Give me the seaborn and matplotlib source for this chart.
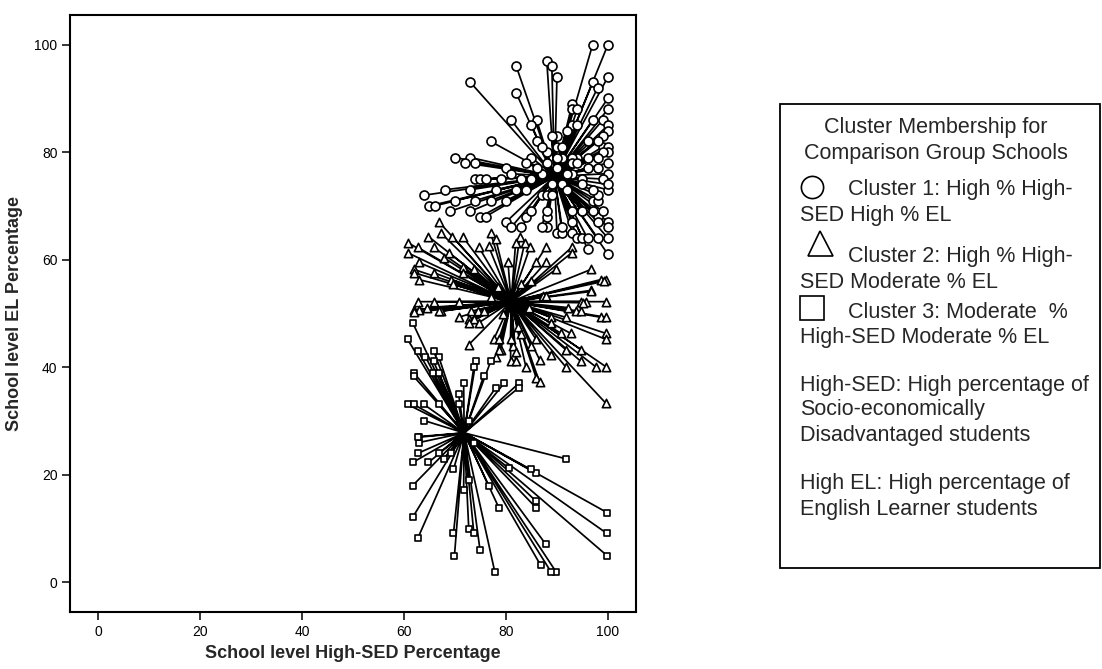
import numpy as np
import pandas as pd
import matplotlib
matplotlib.use("Agg")
import matplotlib.pyplot as plt
from matplotlib.lines import Line2D
from matplotlib.patches import Rectangle
import seaborn as sns

sns.set_theme(style="white")
plt.rcParams["font.family"] = ["Liberation Sans", "DejaVu Sans"]

# Cluster centres (High-SED %, EL %)
centers_x = [89.5, 81.0, 71.8]
centers_y = [75.5, 52.2, 27.8]

# Cluster 1: High % High-SED, High % EL
c1_x = [97, 100, 73, 82, 88, 89, 90, 100, 82, 97, 98, 100, 100, 93, 93, 94,
        81, 86, 85, 97, 99, 100, 93, 94, 90, 92, 100, 77, 86, 96, 99, 99, 100,
        70, 73, 85, 84, 72, 74, 80, 81, 74, 75, 76, 79, 68, 73, 64, 65, 66, 69,
        70, 73, 75, 76, 74, 77, 80, 78, 82, 80, 81, 83, 88, 90, 91, 93, 94, 95,
        96, 98, 100, 96, 100, 100, 100, 98, 95, 97, 100, 99, 98, 100, 96, 94,
        93, 91, 90, 89, 98, 83, 85, 84, 87, 88, 89, 93, 95, 97, 98, 98, 100,
        100, 99, 100, 95, 95, 97, 93, 92, 96, 98, 93, 91, 87, 98, 99, 88, 84,
        88, 85, 93, 94, 87, 88, 90, 91, 89, 86, 92, 88, 90, 87, 91]
c1_y = [100, 100, 93, 96, 97, 96, 94, 94, 91, 93, 92, 90, 88, 89, 88, 88,
        86, 86, 85, 86, 86, 85, 85, 85, 83, 84, 84, 82, 82, 82, 83, 81, 81,
        79, 79, 79, 78, 78, 78, 77, 76, 75, 75, 75, 75, 73, 73, 72, 70, 70, 69,
        71, 69, 68, 68, 71, 71, 71, 73, 73, 67, 66, 66, 66, 65, 65, 65, 64, 64,
        64, 64, 64, 62, 61, 67, 66, 68, 69, 69, 80, 80, 79, 78, 79, 79,
        79, 79, 79, 83, 82, 75, 75, 73, 72, 72, 72, 69, 69, 71, 71, 72, 73,
        76, 75, 74, 75, 74, 73, 76, 76, 77, 77, 67, 66, 66, 67, 69, 68, 68,
        69, 69, 78, 78, 76, 78, 77, 74, 74, 77, 73, 80, 81, 81, 81]

# Cluster 2: High % High-SED, Moderate % EL
c2_x = [82.7, 81.9, 83.7, 84.7, 87.8, 92.9, 92.9, 80.4, 85.9, 87.8, 89.8, 96.7,
        98.6, 99.6, 96.7, 94.7, 95.7, 99.6, 87.2, 87.8, 93.7, 94.7, 92.1, 98.6,
        99.6, 91.7, 88.8, 88.8, 92.7, 99.6, 99.6, 90.8, 94.7, 91.7, 88.8, 86.6,
        83.9, 80.9, 81.9, 91.7, 94.7, 97.6, 99.6, 85.9, 86.6, 99.6, 85.9, 84.9,
        82.3, 82.9, 81.3, 81.9, 79.0, 66.8, 64.8, 67.2, 69.5, 71.5, 60.7, 62.7,
        65.8, 60.7, 67.8, 68.8, 74.7, 77.0, 78.0, 76.6, 62.9, 61.9, 61.9, 62.9,
        65.8, 69.2, 69.7, 71.5, 73.7, 71.5, 62.7, 65.8, 70.7, 61.9, 62.9, 61.9,
        64.6, 67.2, 70.7, 73.1, 74.5, 75.6, 72.7, 73.7, 66.8, 72.7, 74.7, 72.7,
        77.6, 78.6, 80.9, 78.6, 78.0, 95.1, 96.7, 99.2, 78.5, 83.0, 84.5, 79.5,
        77.0, 85.0]
c2_y = [64.3, 63.2, 63.2, 62.3, 62.3, 62.3, 61.3, 59.5, 59.5, 59.5, 58.2, 58.2,
        56.3, 56.3, 54.3, 52.2, 52.2, 52.2, 53.3, 53.3, 50.4, 50.4, 51.1, 49.3,
        49.3, 49.3, 49.3, 48.3, 46.3, 46.3, 45.2, 46.3, 43.3, 43.3, 42.2, 41.4,
        40.1, 41.1, 41.1, 40.1, 41.1, 40.1, 40.1, 38.1, 37.2, 33.3, 45.2, 43.9,
        47.4, 46.1, 43.9, 42.8, 43.3, 67.1, 64.3, 65.0, 64.3, 64.3, 63.2, 62.3,
        62.3, 61.3, 60.4, 61.3, 62.3, 65.0, 63.8, 62.5, 59.5, 58.2, 57.6, 56.3,
        57.6, 56.3, 55.4, 58.7, 58.2, 57.6, 52.2, 52.2, 52.2, 50.7, 50.7, 50.2,
        51.1, 50.4, 49.3, 50.4, 50.4, 50.4, 48.9, 48.9, 50.4, 48.3, 48.3, 44.2,
        45.2, 45.2, 45.2, 43.3, 42.0, 52.0, 54.1, 56.0, 55.0, 55.5, 51.0, 50.0,
        53.0, 56.0]

# Cluster 3: Moderate % High-SED, Moderate % EL
c3_x = [91.7, 99.8, 99.8, 99.8, 87.8, 89.8, 86.8, 77.8, 74.9, 69.9, 69.7, 72.7,
        73.7, 62.7, 61.7, 61.7, 71.7, 72.7, 76.6, 78.6, 85.9, 85.9, 85.9, 84.9,
        80.6, 69.7, 61.7, 64.8, 67.8, 62.7, 66.8, 69.2, 62.9, 62.9, 73.7, 61.7,
        60.7, 62.7, 65.8, 64.2, 66.8, 65.8, 74.1, 77.0, 73.7, 61.9, 61.9, 65.6,
        66.8, 75.6, 71.7, 78.0, 79.6, 82.5, 82.5, 70.7, 60.7, 61.9, 63.9, 66.8,
        70.7, 63.9, 72.7, 62.7, 88.8]
c3_y = [23.0, 13.0, 9.1, 5.0, 7.1, 2.0, 3.2, 2.0, 6.1, 5.0, 9.1, 10.0,
        9.1, 8.2, 12.1, 18.0, 17.1, 19.1, 18.0, 13.9, 15.1, 13.9, 20.3, 21.0,
        21.2, 21.0, 22.3, 22.3, 23.0, 24.0, 24.0, 24.0, 26.0, 27.0, 26.0, 48.3,
        45.2, 43.1, 43.1, 42.0, 42.0, 41.1, 41.1, 41.1, 40.1, 39.0, 38.3, 39.0,
        39.0, 38.3, 37.0, 36.2, 37.0, 37.0, 36.2, 35.1, 33.1, 33.1, 33.1, 33.1,
        33.1, 30.1, 30.1, 27.1, 2.0]

clusters = [(c1_x, c1_y, "o", 42), (c2_x, c2_y, "^", 36), (c3_x, c3_y, "s", 18)]

fig = plt.figure(figsize=(11.02, 6.69), dpi=100)
ax = fig.add_axes([70 / 1102, 57 / 669, 566 / 1102, 597 / 669])

# Spokes from each cluster centre to its member schools
for k, (xs, ys, mk, sz) in enumerate(clusters):
    cx, cy = centers_x[k], centers_y[k]
    seg_x, seg_y = [], []
    for x, y in zip(xs, ys):
        seg_x += [cx, x, np.nan]
        seg_y += [cy, y, np.nan]
    ax.plot(seg_x, seg_y, color="black", lw=1.25, zorder=1, solid_capstyle="butt")

# Member schools
for k, (xs, ys, mk, sz) in enumerate(clusters):
    df = pd.DataFrame({"sed": xs, "el": ys})
    sns.scatterplot(data=df, x="sed", y="el", marker=mk, s=sz, color="white",
                    edgecolor="black", linewidth=1.2, ax=ax, zorder=2, legend=False)

ax.set_xlim(-5.5, 105.5)
ax.set_ylim(-5.5, 105.5)
ax.set_xticks([0, 20, 40, 60, 80, 100])
ax.set_yticks([0, 20, 40, 60, 80, 100])
ax.tick_params(axis="both", which="both", direction="out", length=6, width=1.1,
               color="black", labelsize=10, labelcolor="black", pad=3,
               bottom=True, left=True)
for sp in ax.spines.values():
    sp.set_color("black")
    sp.set_linewidth(1.5)
ax.set_xlabel("School level High-SED Percentage", fontsize=13, fontweight="bold",
              labelpad=5)
ax.set_ylabel("School level EL Percentage", fontsize=13, fontweight="bold",
              labelpad=8)
ax.grid(False)

# Legend panel
W, H = 1102, 669


def fx(px):
    return px / W


def fy(py):
    return 1 - py / H


fig.add_artist(Rectangle((fx(780), fy(568)), fx(1100) - fx(780), fy(104) - fy(568),
                         transform=fig.transFigure, fill=False, edgecolor="black",
                         linewidth=1.3))

fs = 15.5
fig.text(fx(936), fy(128), "Cluster Membership for", ha="center", va="center", fontsize=fs)
fig.text(fx(936), fy(153), "Comparison Group Schools", ha="center", va="center", fontsize=fs)

legend_rows = [
    ("o", 812, 187, 190, 215, "Cluster 1: High % High-", "SED High % EL", 16),
    ("^", 820, 243, 257, 282, "Cluster 2: High % High-", "SED Moderate % EL", 18),
    ("s", 812, 308, 313, 337, "Cluster 3: Moderate  %", "High-SED Moderate % EL", 17),
]
for mk, mx, my, y1, y2, t1, t2, ms in legend_rows:
    fig.add_artist(Line2D([fx(mx)], [fy(my)], marker=mk, markersize=ms,
                          markerfacecolor="white", markeredgecolor="black",
                          markeredgewidth=1.2, linestyle="none",
                          transform=fig.transFigure))
    fig.text(fx(848), fy(y1), t1, ha="left", va="center", fontsize=fs)
    fig.text(fx(800), fy(y2), t2, ha="left", va="center", fontsize=fs)

notes = [
    (385, "High-SED: High percentage of"),
    (410, "Socio-economically"),
    (435, "Disadvantaged students"),
    (483, "High EL: High percentage of"),
    (510, "English Learner students"),
]
for y, t in notes:
    fig.text(fx(800), fy(y), t, ha="left", va="center", fontsize=fs)

fig.savefig("out.png", dpi=100, facecolor="white")
